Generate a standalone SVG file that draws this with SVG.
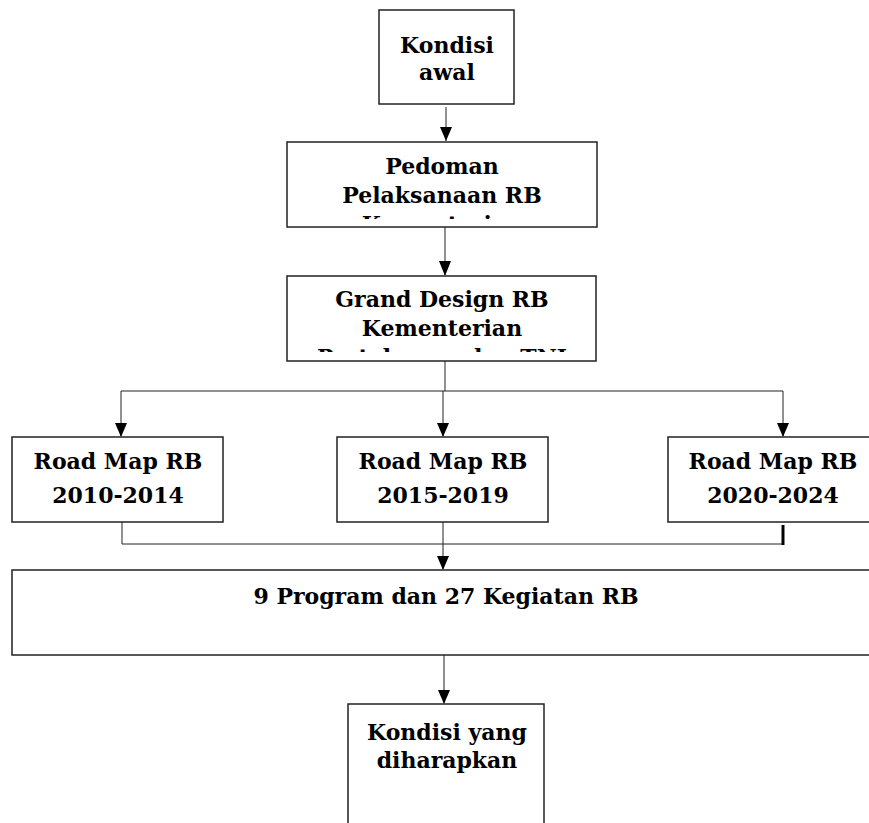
<svg xmlns="http://www.w3.org/2000/svg" width="869" height="823" viewBox="0 0 869 823">
<style>
.box{fill:#fff;stroke:#222;stroke-width:1.5}
.t{font-family:"DejaVu Serif","Liberation Serif",serif;font-weight:bold;font-size:22px;fill:#000;text-anchor:middle}
.c{fill:none;stroke:#222;stroke-width:1}
</style>
<defs>
<clipPath id="cp1"><rect x="287" y="142" width="310" height="77"/></clipPath>
<clipPath id="cp2"><rect x="287" y="276" width="310" height="76"/></clipPath>
</defs>
<g id="connectors">
<line class="c" x1="446" y1="107" x2="446" y2="141"/>
<path d="M440,127 L452,127 L446,141 Z" fill="#000"/>
<line class="c" x1="445" y1="227" x2="445" y2="275"/>
<path d="M439,261 L451,261 L445,276 Z" fill="#000"/>
<line class="c" x1="445" y1="361" x2="445" y2="391"/>
<polyline class="c" points="121,436 121,391 783,391 783,436"/>
<line class="c" x1="443" y1="391" x2="443" y2="436"/>
<path d="M115,423 L127,423 L121,437 Z" fill="#000"/>
<path d="M437,423 L449,423 L443,437 Z" fill="#000"/>
<path d="M777,423 L789,423 L783,437 Z" fill="#000"/>
<polyline class="c" points="122,522 122,544 783,544"/>
<line x1="783" y1="525" x2="783" y2="545" stroke="#000" stroke-width="3"/>
<line class="c" x1="443" y1="522" x2="443" y2="569"/>
<path d="M437,556 L449,556 L443,570 Z" fill="#000"/>
<line class="c" x1="444" y1="655" x2="444" y2="703"/>
<path d="M438,690 L450,690 L444,704 Z" fill="#000"/>
</g>
<g id="kondisi-awal">
<rect class="box" x="379" y="10" width="135" height="94"/>
<text class="t" x="447" y="53">Kondisi</text>
<text class="t" x="447" y="80">awal</text>
</g>
<g id="pedoman">
<rect class="box" x="287" y="142" width="310" height="85"/>
<text class="t" x="442" y="174">Pedoman</text>
<text class="t" x="442" y="203">Pelaksanaan RB</text>
<text class="t" x="442" y="232" clip-path="url(#cp1)">Kementerian</text>
</g>
<g id="grand-design">
<rect class="box" x="287" y="276" width="309" height="85"/>
<text class="t" x="442" y="307">Grand Design RB</text>
<text class="t" x="442" y="336">Kementerian</text>
<text class="t" x="442" y="365" clip-path="url(#cp2)">Pertahanan dan TNI</text>
</g>
<g id="roadmap-2010">
<rect class="box" x="12" y="437" width="211" height="85"/>
<text class="t" x="118" y="469">Road Map RB</text>
<text class="t" x="118" y="503">2010-2014</text>
</g>
<g id="roadmap-2015">
<rect class="box" x="337" y="437" width="211" height="85"/>
<text class="t" x="443" y="469">Road Map RB</text>
<text class="t" x="443" y="503">2015-2019</text>
</g>
<g id="roadmap-2020">
<rect class="box" x="668" y="437" width="211" height="85"/>
<text class="t" x="773" y="469">Road Map RB</text>
<text class="t" x="773" y="503">2020-2024</text>
</g>
<g id="program">
<rect class="box" x="12" y="570" width="870" height="85"/>
<text class="t" x="446" y="604">9 Program dan 27 Kegiatan RB</text>
</g>
<g id="kondisi-harapan">
<rect class="box" x="348" y="704" width="196" height="130"/>
<text class="t" x="447" y="740">Kondisi yang</text>
<text class="t" x="447" y="768">diharapkan</text>
</g>
</svg>
